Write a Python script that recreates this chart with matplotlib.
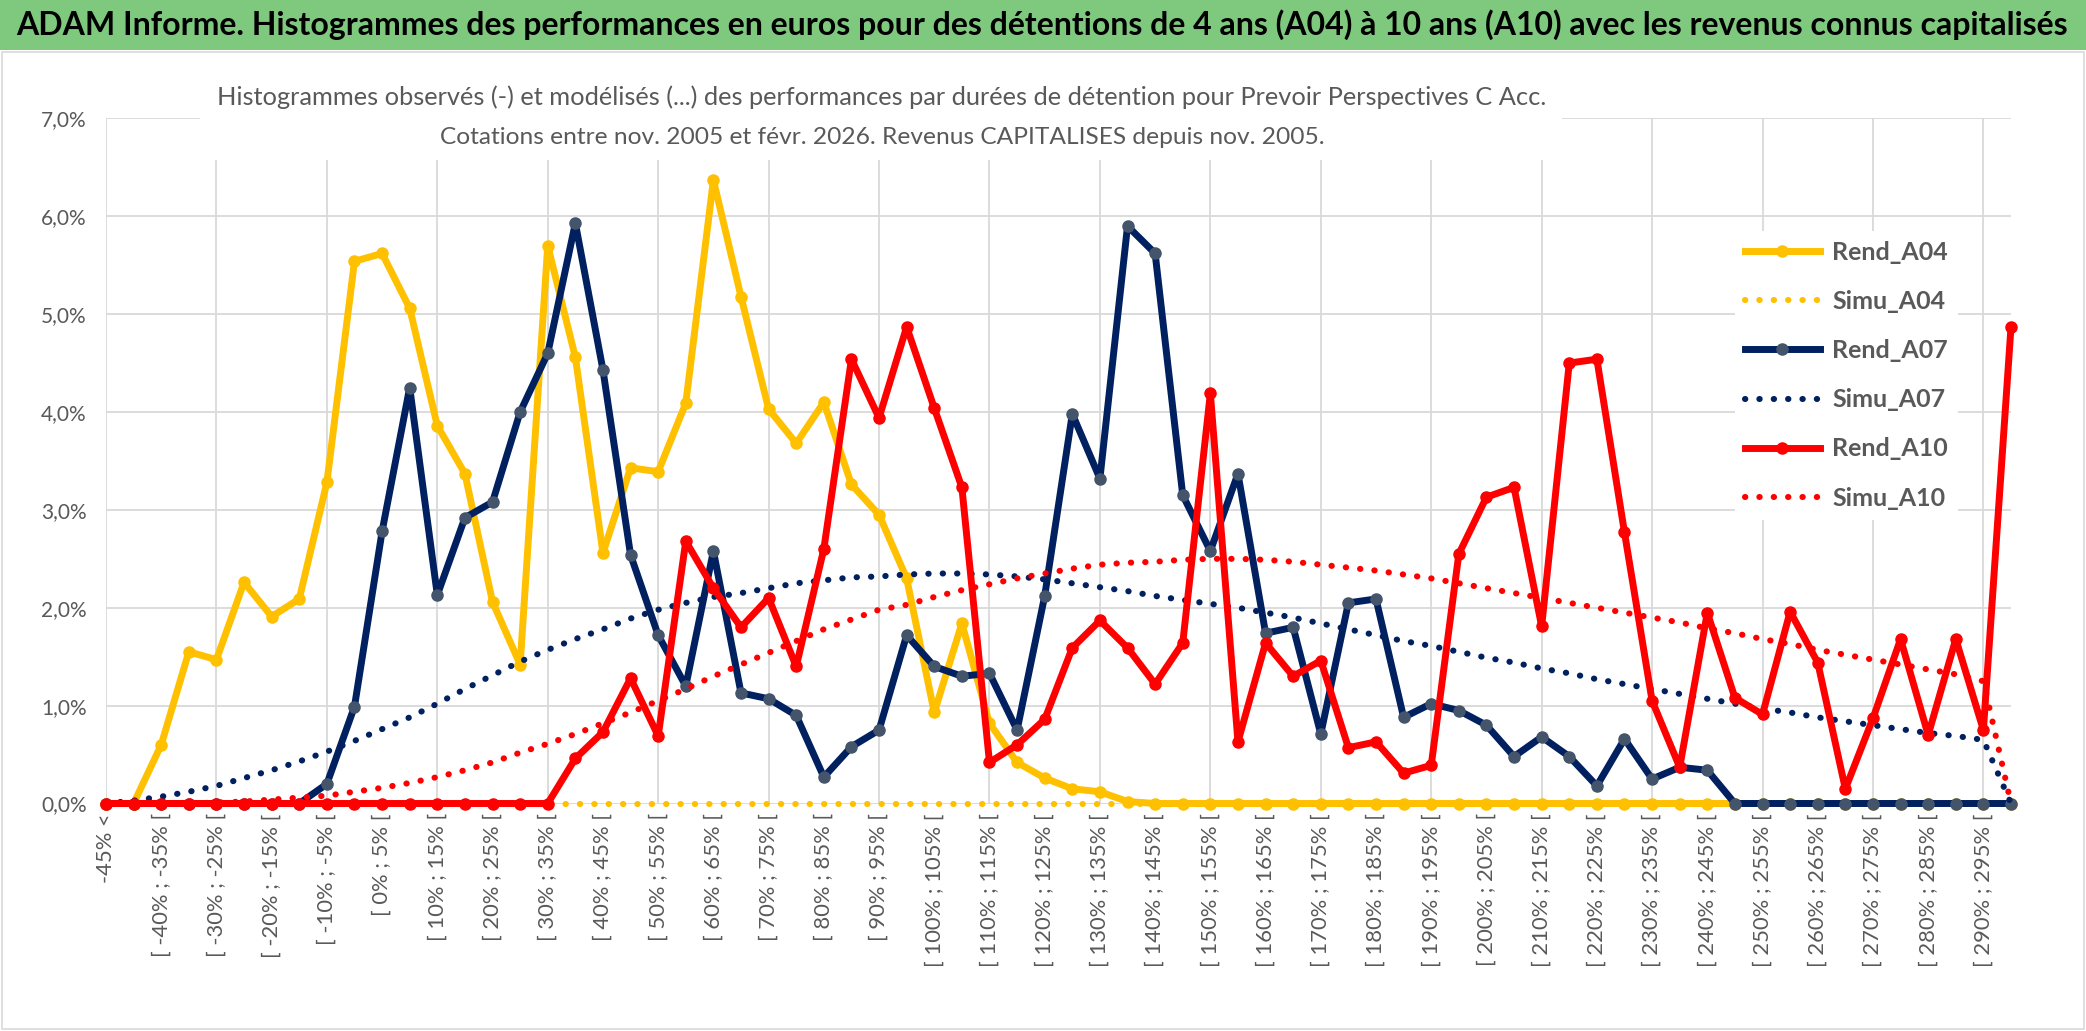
import matplotlib
matplotlib.use("Agg")
import matplotlib.pyplot as plt
from matplotlib.patches import Rectangle
from matplotlib import font_manager

# ---------------- data (values in %) ----------------
categories = [
    "-45% <", "[ -45% ; -40% [", "[ -40% ; -35% [", "[ -35% ; -30% [", "[ -30% ; -25% [",
    "[ -25% ; -20% [", "[ -20% ; -15% [", "[ -15% ; -10% [", "[ -10% ; -5% [", "[ -5% ; 0% [",
    "[ 0% ; 5% [", "[ 5% ; 10% [", "[ 10% ; 15% [", "[ 15% ; 20% [", "[ 20% ; 25% [",
    "[ 25% ; 30% [", "[ 30% ; 35% [", "[ 35% ; 40% [", "[ 40% ; 45% [", "[ 45% ; 50% [",
    "[ 50% ; 55% [", "[ 55% ; 60% [", "[ 60% ; 65% [", "[ 65% ; 70% [", "[ 70% ; 75% [",
    "[ 75% ; 80% [", "[ 80% ; 85% [", "[ 85% ; 90% [", "[ 90% ; 95% [", "[ 95% ; 100% [",
    "[ 100% ; 105% [", "[ 105% ; 110% [", "[ 110% ; 115% [", "[ 115% ; 120% [", "[ 120% ; 125% [",
    "[ 125% ; 130% [", "[ 130% ; 135% [", "[ 135% ; 140% [", "[ 140% ; 145% [", "[ 145% ; 150% [",
    "[ 150% ; 155% [", "[ 155% ; 160% [", "[ 160% ; 165% [", "[ 165% ; 170% [", "[ 170% ; 175% [",
    "[ 175% ; 180% [", "[ 180% ; 185% [", "[ 185% ; 190% [", "[ 190% ; 195% [", "[ 195% ; 200% [",
    "[ 200% ; 205% [", "[ 205% ; 210% [", "[ 210% ; 215% [", "[ 215% ; 220% [", "[ 220% ; 225% [",
    "[ 225% ; 230% [", "[ 230% ; 235% [", "[ 235% ; 240% [", "[ 240% ; 245% [", "[ 245% ; 250% [",
    "[ 250% ; 255% [", "[ 255% ; 260% [", "[ 260% ; 265% [", "[ 265% ; 270% [", "[ 270% ; 275% [",
    "[ 275% ; 280% [", "[ 280% ; 285% [", "[ 285% ; 290% [", "[ 290% ; 295% [", "[ 295% ; 300% [",
]

rend_a04 = [
    0.00, 0.00, 0.60, 1.55, 1.47, 2.26, 1.91, 2.09, 3.28, 5.54,
    5.62, 5.06, 3.86, 3.37, 2.06, 1.42, 5.70, 4.56, 2.56, 3.43,
    3.39, 4.09, 6.37, 5.18, 4.03, 3.68, 4.10, 3.26, 2.95, 2.30,
    0.93, 1.84, 0.82, 0.42, 0.26, 0.15, 0.12, 0.02, 0.00, 0.00,
    0.00, 0.00, 0.00, 0.00, 0.00, 0.00, 0.00, 0.00, 0.00, 0.00,
    0.00, 0.00, 0.00, 0.00, 0.00, 0.00, 0.00, 0.00, 0.00, 0.00,
    0.00, 0.00, 0.00, 0.00, 0.00, 0.00, 0.00, 0.00, 0.00, 0.00,
]
simu_a04 = [
    0.00, 0.00, 0.00, 0.00, 0.00, 0.00, 0.00, 0.00, 0.00, 0.00,
    0.00, 0.00, 0.00, 0.00, 0.00, 0.00, 0.00, 0.00, 0.00, 0.00,
    0.00, 0.00, 0.00, 0.00, 0.00, 0.00, 0.00, 0.00, 0.00, 0.00,
    0.00, 0.00, 0.00, 0.00, 0.00, 0.00, 0.00, 0.00, 0.00, 0.00,
    0.00, 0.00, 0.00, 0.00, 0.00, 0.00, 0.00, 0.00, 0.00, 0.00,
    0.00, 0.00, 0.00, 0.00, 0.00, 0.00, 0.00, 0.00, 0.00, 0.00,
    0.00, 0.00, 0.00, 0.00, 0.00, 0.00, 0.00, 0.00, 0.00, 0.00,
]
rend_a07 = [
    0.00, 0.00, 0.00, 0.00, 0.00, 0.00, 0.00, 0.00, 0.20, 0.99,
    2.78, 4.25, 2.13, 2.92, 3.08, 4.00, 4.60, 5.93, 4.43, 2.54,
    1.72, 1.20, 2.58, 1.13, 1.07, 0.90, 0.27, 0.58, 0.75, 1.72,
    1.40, 1.30, 1.33, 0.75, 2.12, 3.98, 3.32, 5.90, 5.62, 3.15,
    2.58, 3.37, 1.74, 1.80, 0.71, 2.05, 2.09, 0.88, 1.02, 0.95,
    0.80, 0.48, 0.68, 0.48, 0.18, 0.66, 0.25, 0.37, 0.34, 0.00,
    0.00, 0.00, 0.00, 0.00, 0.00, 0.00, 0.00, 0.00, 0.00, 0.00,
]
simu_a07 = [
    0.00, 0.03, 0.07, 0.12, 0.18, 0.26, 0.34, 0.43, 0.53, 0.64,
    0.76, 0.88, 1.02, 1.17, 1.31, 1.45, 1.57, 1.68, 1.78, 1.89,
    1.98, 2.05, 2.11, 2.15, 2.20, 2.25, 2.28, 2.31, 2.32, 2.34,
    2.35, 2.35, 2.34, 2.32, 2.29, 2.25, 2.21, 2.17, 2.12, 2.08,
    2.04, 2.00, 1.95, 1.90, 1.84, 1.78, 1.72, 1.66, 1.61, 1.55,
    1.49, 1.44, 1.38, 1.33, 1.27, 1.22, 1.17, 1.12, 1.07, 1.02,
    0.97, 0.93, 0.88, 0.84, 0.80, 0.76, 0.72, 0.69, 0.65, 0.00,
]
rend_a10 = [
    0.00, 0.00, 0.00, 0.00, 0.00, 0.00, 0.00, 0.00, 0.00, 0.00,
    0.00, 0.00, 0.00, 0.00, 0.00, 0.00, 0.00, 0.46, 0.73, 1.28,
    0.69, 2.68, 2.20, 1.80, 2.10, 1.40, 2.60, 4.54, 3.94, 4.87,
    4.04, 3.23, 0.42, 0.60, 0.86, 1.59, 1.87, 1.59, 1.22, 1.64,
    4.19, 0.63, 1.64, 1.30, 1.46, 0.57, 0.63, 0.31, 0.39, 2.55,
    3.13, 3.23, 1.81, 4.50, 4.54, 2.77, 1.05, 0.37, 1.95, 1.08,
    0.91, 1.96, 1.44, 0.15, 0.87, 1.68, 0.70, 1.68, 0.75, 4.87,
]
simu_a10 = [
    0.00, 0.00, 0.00, 0.00, 0.01, 0.02, 0.04, 0.06, 0.08, 0.12,
    0.16, 0.21, 0.27, 0.34, 0.42, 0.52, 0.61, 0.71, 0.82, 0.93,
    1.05, 1.17, 1.30, 1.42, 1.54, 1.66, 1.78, 1.88, 1.98, 2.03,
    2.11, 2.18, 2.24, 2.30, 2.35, 2.40, 2.44, 2.46, 2.47, 2.49,
    2.50, 2.50, 2.49, 2.47, 2.44, 2.41, 2.38, 2.34, 2.30, 2.25,
    2.20, 2.15, 2.10, 2.05, 2.00, 1.95, 1.90, 1.85, 1.79, 1.74,
    1.68, 1.63, 1.57, 1.52, 1.47, 1.42, 1.37, 1.32, 1.25, 0.00,
]

series_names = ["Rend_A04", "Simu_A04", "Rend_A07", "Simu_A07", "Rend_A10", "Simu_A10"]

main_title = ("ADAM Informe. Histogrammes des performances en euros pour des détentions "
              "de 4 ans (A04) à 10 ans (A10) avec les revenus connus capitalisés")
sub_title_1 = ("Histogrammes observés (-) et modélisés (...) des performances par durées de "
               "détention pour Prevoir Perspectives C Acc.")
sub_title_2 = "Cotations entre nov. 2005 et févr. 2026. Revenus CAPITALISES depuis nov. 2005."


# ---------------- helpers ----------------
def pick_font(cands):
    for c in cands:
        try:
            font_manager.findfont(font_manager.FontProperties(family=c), fallback_to_default=False)
            return c
        except Exception:
            continue
    return "DejaVu Sans"


BODY = pick_font(["Lato", "Open Sans", "Noto Sans", "DejaVu Sans"])
HEAD = pick_font(["Liberation Sans Narrow", "Lato", "Open Sans", "DejaVu Sans"])

W, H = 2086, 1031
fig = plt.figure(figsize=(W / 100, H / 100), dpi=100)
fig.patch.set_facecolor("white")

# chart area border and green banner
fig.patches.append(Rectangle((2 / W, 2 / H), (W - 4) / W, (H - 54) / H, transform=fig.transFigure,
                             facecolor="none", edgecolor="#D9D9D9", lw=1.2, zorder=0))
fig.patches.append(Rectangle((0, 1 - 50 / H), 1, 50 / H, transform=fig.transFigure,
                             facecolor="#7FC97F", edgecolor="none", zorder=1))

# plot area
x0, x1 = 106, 2011
y_top, y_bot = 118.4, 803.5
ax = fig.add_axes([x0 / W, 1 - y_bot / H, (x1 - x0) / W, (y_bot - y_top) / H])
ax.set_xlim(0, len(categories) - 1)
ax.set_ylim(0, 7)
for s in ax.spines.values():
    s.set_visible(False)

grid_c = "#D9D9D9"
for v in range(0, 8):
    ax.axhline(v, color=grid_c, lw=1.3, zorder=0)
for k in range(0, len(categories), 4):
    ax.axvline(k, color=grid_c, lw=1.3, zorder=0)

ax.set_yticks(range(0, 8))
ax.set_yticklabels([f"{v},0%" for v in range(0, 8)])
xt = list(range(0, len(categories), 2))
ax.set_xticks(xt)
ax.set_xticklabels([categories[i] for i in xt], rotation=90, ha="center", va="top")
ax.tick_params(axis="both", length=0, colors="#595959")
ax.tick_params(axis="y", pad=14, labelsize=15)
ax.tick_params(axis="x", pad=7, labelsize=15.8)
for lab in ax.get_xticklabels() + ax.get_yticklabels():
    lab.set_family(BODY)

x = list(range(len(categories)))
YEL, NAV, NAVM, RED = "#FFC000", "#002060", "#44546A", "#FF0000"
lw_s = 5.0
dot_style = (0, (0.05, 2.3))

l1, = ax.plot(x, rend_a04, color=YEL, lw=lw_s, marker="o", ms=8, mfc=YEL, mec=YEL,
              zorder=3, clip_on=False, solid_joinstyle="round")
l2, = ax.plot(x, simu_a04, color=YEL, lw=4.4, ls=dot_style, dash_capstyle="round",
              zorder=3.1, clip_on=False)
l3, = ax.plot(x, rend_a07, color=NAV, lw=lw_s, marker="o", ms=8, mfc=NAVM, mec=NAVM,
              zorder=3.2, clip_on=False, solid_joinstyle="round")
l4, = ax.plot(x, simu_a07, color=NAV, lw=4.4, ls=dot_style, dash_capstyle="round",
              zorder=3.3, clip_on=False)
l5, = ax.plot(x, rend_a10, color=RED, lw=lw_s, marker="o", ms=8, mfc=RED, mec=RED,
              zorder=3.4, clip_on=False, solid_joinstyle="round")
l6, = ax.plot(x, simu_a10, color=RED, lw=4.4, ls=dot_style, dash_capstyle="round",
              zorder=3.5, clip_on=False)

leg = fig.legend([l1, l2, l3, l4, l5, l6], series_names,
                 loc="upper left", bbox_to_anchor=(1722 / W, 1 - 218 / H),
                 frameon=True, facecolor="white", edgecolor="none", framealpha=1,
                 handlelength=3.0, handletextpad=0.5, labelspacing=1.05,
                 borderpad=0.4, prop={"family": BODY, "size": 18, "weight": "bold"})
for t in leg.get_texts():
    t.set_color("#595959")
leg.set_zorder(5)

# white box behind chart title (hides gridlines like the original)
fig.patches.append(Rectangle((200 / W, 1 - 160 / H), (1562 - 200) / W, (160 - 78) / H,
                             transform=fig.transFigure, facecolor="white", edgecolor="none",
                             zorder=2))

t_main = fig.text(16 / W, 1 - 25 / H, main_title, family=HEAD, weight="bold", fontsize=20,
                  color="black", ha="left", va="center", zorder=3)
t_s1 = fig.text(882 / W, 1 - 97 / H, sub_title_1, family=BODY, fontsize=16,
                color="#595959", ha="center", va="center", zorder=3)
t_s2 = fig.text(882 / W, 1 - 138 / H, sub_title_2, family=BODY, fontsize=16,
                color="#595959", ha="center", va="center", zorder=3)

fig.canvas.draw()
r = fig.canvas.get_renderer()
for t, target in [(t_main, 2053), (t_s1, 1339), (t_s2, 884)]:
    w = t.get_window_extent(r).width
    t.set_fontsize(t.get_fontsize() * target / w)

fig.savefig("out.png", dpi=100, facecolor="white")
